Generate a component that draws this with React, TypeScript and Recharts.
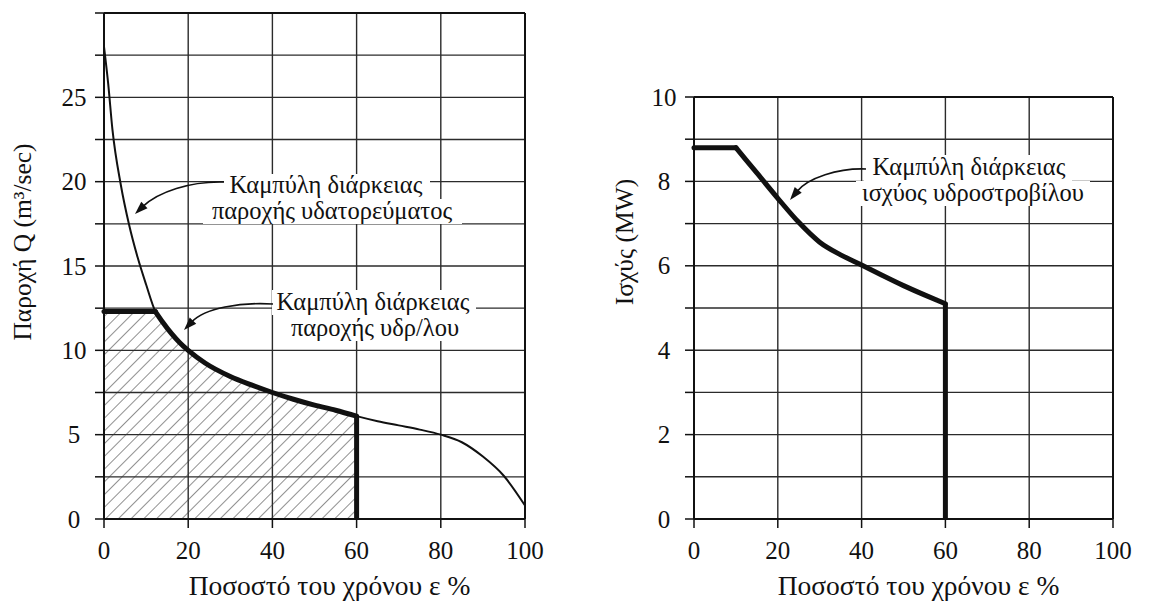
import React from 'react';
import { ComposedChart, Line, Area, XAxis, YAxis, CartesianGrid, ReferenceLine, Label } from 'recharts';

const FONT = 'Liberation Serif';
const INK = '#111111';
const GRID = '#2b2b2b';

// ---- ticks ----
const timeTicks = [0, 20, 40, 60, 80, 100];
const flowTicks = [0, 2.5, 5, 7.5, 10, 12.5, 15, 17.5, 20, 22.5, 25, 27.5, 30];
const flowTickLabels = [0, 5, 10, 15, 20, 25];
const powerTicks = [0, 1, 2, 3, 4, 5, 6, 7, 8, 9, 10];
const powerTickLabels = [0, 2, 4, 6, 8, 10];

// ---- stream flow duration curve (thin) ----
const streamTime = [0, 1, 2, 4, 6, 8, 10, 12.2, 14, 16, 18, 20, 24, 30, 35, 40, 45, 50, 55, 60, 65, 70, 75, 80, 85, 90, 95, 100];
const streamFlow = [28.0, 25.8, 23.1, 19.8, 17.4, 15.5, 13.9, 12.3, 11.65, 11.0, 10.45, 10.0, 9.25, 8.45, 7.95, 7.5, 7.1, 6.75, 6.45, 6.1, 5.8, 5.55, 5.3, 5.0, 4.55, 3.7, 2.55, 0.8];

// ---- hydro plant flow duration curve (thick) ----
const hydroTime = [0, 12.2, 14, 16, 18, 20, 24, 30, 35, 40, 45, 50, 55, 60, 60];
const hydroFlow = [12.3, 12.3, 11.65, 11.0, 10.45, 10.0, 9.25, 8.45, 7.95, 7.5, 7.1, 6.75, 6.45, 6.1, 0];

// ---- turbine power duration curve ----
const turbineTime = [0, 10, 15, 20, 25, 30, 35, 40, 45, 50, 55, 60, 60];
const turbinePower = [8.8, 8.8, 8.2, 7.6, 7.03, 6.56, 6.26, 6.02, 5.77, 5.53, 5.31, 5.1, 0];

// ---- texts ----
const xTitle = 'Ποσοστό του χρόνου ε %';
const flowTitle = 'Παροχή Q (m³/sec)';
const powerTitle = 'Ισχύς (MW)';
const noteStream = ['Καμπύλη διάρκειας', 'παροχής υδατορεύματος'];
const noteHydro = ['Καμπύλη διάρκειας', 'παροχής υδρ/λου'];
const noteTurbine = ['Καμπύλη διάρκειας', 'ισχύος υδροστροβίλου'];

const toPoints = (xs: number[], ys: number[]) => xs.map((x, i) => ({ x, y: ys[i] }));

const streamData = toPoints(streamTime, streamFlow);
const hydroData = toPoints(hydroTime, hydroFlow);
const hydroFlat = hydroData.slice(0, 2);
const hydroCurve = hydroData.slice(1, -1);
const hydroDrop = hydroData.slice(-2);

const turbineData = toPoints(turbineTime, turbinePower);
const turbineFlat = turbineData.slice(0, 2);
const turbineCurve = turbineData.slice(1, -1);
const turbineDrop = turbineData.slice(-2);

const makeYTick = (labels: number[]) => (props: any) => {
  const { x, y, payload } = props;
  const v = payload.value;
  if (!labels.includes(v)) return <g />;
  return (
    <text x={x - 21} y={y} textAnchor="middle" dominantBaseline="central" fontSize={25} fill={INK} fontFamily={FONT}>
      {v}
    </text>
  );
};

const vTitle = (text: string, fromLeft: number, centerY: number) => (props: any) => {
  const vb = props.viewBox || { x: 0 };
  const x = (vb.x || 0) + fromLeft;
  const y = centerY;
  return (
    <text x={x} y={y} transform={`rotate(-90 ${x} ${y})`} textAnchor="middle" dominantBaseline="central" fontSize={25.5} fill={INK} fontFamily={FONT}>
      {text}
    </text>
  );
};

const xTickStyle = { fill: INK, fontSize: 25, fontFamily: FONT };
const axisLineStyle = { stroke: INK, strokeWidth: 2 };
const tickLineStyle = { stroke: INK, strokeWidth: 1.5 };

function FlowChart() {
  return (
    <ComposedChart width={560} height={604} margin={{ top: 13, right: 35, bottom: 0, left: 0 }}>
      <defs>
        <pattern id="hatch" patternUnits="userSpaceOnUse" width="9" height="9" patternTransform="rotate(45)">
          <line x1="0" y1="0" x2="0" y2="9" stroke="#333" strokeWidth="1.1" />
        </pattern>
      </defs>
      <CartesianGrid stroke={GRID} strokeWidth={1.4} />
      <XAxis type="number" dataKey="x" domain={[0, 100]} ticks={timeTicks} interval={0} height={85} tickSize={9} tickMargin={13} tick={xTickStyle} axisLine={axisLineStyle} tickLine={tickLineStyle}>
        <Label value={xTitle} position="insideBottom" offset={9} dx={15} fill={INK} fontSize={27.5} fontFamily={FONT} />
      </XAxis>
      <YAxis type="number" domain={[0, 30]} ticks={flowTicks} interval={0} width={104} tickSize={9} tickMargin={0} tick={makeYTick(flowTickLabels)} axisLine={axisLineStyle} tickLine={tickLineStyle}>
        <Label content={vTitle(flowTitle, 22, 242)} />
      </YAxis>
      <Area data={hydroFlat} dataKey="y" type="linear" stroke="none" fill="url(#hatch)" fillOpacity={1} isAnimationActive={false} />
      <Area data={hydroCurve} dataKey="y" type="monotone" stroke="none" fill="url(#hatch)" fillOpacity={1} isAnimationActive={false} />
      <Line data={streamData} dataKey="y" type="monotone" stroke={INK} strokeWidth={2} dot={false} activeDot={false} isAnimationActive={false} />
      <Line data={hydroFlat} dataKey="y" type="linear" stroke={INK} strokeWidth={5} strokeLinecap="round" dot={false} activeDot={false} isAnimationActive={false} />
      <Line data={hydroCurve} dataKey="y" type="monotone" stroke={INK} strokeWidth={5} strokeLinecap="round" dot={false} activeDot={false} isAnimationActive={false} />
      <Line data={hydroDrop} dataKey="y" type="linear" stroke={INK} strokeWidth={5} dot={false} activeDot={false} isAnimationActive={false} />
      <ReferenceLine y={30} stroke={INK} strokeWidth={2} />
      <ReferenceLine x={100} stroke={INK} strokeWidth={2} />
    </ComposedChart>
  );
}

function PowerChart() {
  return (
    <ComposedChart width={575} height={604} margin={{ top: 97, right: 42, bottom: 0, left: 0 }}>
      <CartesianGrid stroke={GRID} strokeWidth={1.4} />
      <XAxis type="number" dataKey="x" domain={[0, 100]} ticks={timeTicks} interval={0} height={85} tickSize={9} tickMargin={13} tick={xTickStyle} axisLine={axisLineStyle} tickLine={tickLineStyle}>
        <Label value={xTitle} position="insideBottom" offset={9} dx={15} fill={INK} fontSize={27.5} fontFamily={FONT} />
      </XAxis>
      <YAxis type="number" domain={[0, 10]} ticks={powerTicks} interval={0} width={114} tickSize={9} tickMargin={0} tick={makeYTick(powerTickLabels)} axisLine={axisLineStyle} tickLine={tickLineStyle}>
        <Label content={vTitle(powerTitle, 44, 242)} />
      </YAxis>
      <Line data={turbineFlat} dataKey="y" type="linear" stroke={INK} strokeWidth={5} strokeLinecap="round" dot={false} activeDot={false} isAnimationActive={false} />
      <Line data={turbineCurve} dataKey="y" type="monotone" stroke={INK} strokeWidth={5} strokeLinecap="round" dot={false} activeDot={false} isAnimationActive={false} />
      <Line data={turbineDrop} dataKey="y" type="linear" stroke={INK} strokeWidth={5} dot={false} activeDot={false} isAnimationActive={false} />
      <ReferenceLine y={10} stroke={INK} strokeWidth={2} />
      <ReferenceLine x={100} stroke={INK} strokeWidth={2} />
    </ComposedChart>
  );
}

type Note = { lines: string[]; centers: number[]; baselines: number[]; boxes: number[][]; path: number[] };

const notes: Note[] = [
  { lines: noteStream, centers: [326, 332], baselines: [193, 218.5], boxes: [[224, 174, 206, 25], [203, 199, 259, 25]], path: [224, 182, 190, 181, 158, 192, 135, 214] },
  { lines: noteHydro, centers: [373, 375], baselines: [310, 335.5], boxes: [[272, 290, 204, 25], [286, 315, 178, 26]], path: [273, 304, 240, 302, 205, 308, 184, 330] },
  { lines: noteTurbine, centers: [969, 973], baselines: [175, 200.5], boxes: [[864, 155, 208, 26], [856, 181, 234, 25]], path: [866, 169, 838, 168, 808, 178, 790, 200] },
];

function Annotation({ n }: { n: Note }) {
  const [x0, y0, c1x, c1y, c2x, c2y, tx, ty] = n.path;
  const dx = tx - c2x;
  const dy = ty - c2y;
  const len = Math.hypot(dx, dy) || 1;
  const ux = dx / len;
  const uy = dy / len;
  const L = 13;
  const W = 4.5;
  const bx = tx - ux * L;
  const by = ty - uy * L;
  const head = `${tx},${ty} ${bx - uy * W},${by + ux * W} ${bx + uy * W},${by - ux * W}`;
  const ex = tx - ux * (L - 2);
  const ey = ty - uy * (L - 2);
  return (
    <g>
      {n.boxes.map((b, i) => (
        <rect key={i} x={b[0]} y={b[1]} width={b[2]} height={b[3]} fill="#ffffff" />
      ))}
      <path d={`M ${x0} ${y0} C ${c1x} ${c1y}, ${c2x} ${c2y}, ${ex} ${ey}`} fill="none" stroke={INK} strokeWidth={1.6} />
      <polygon points={head} fill={INK} />
      {n.lines.map((t, i) => (
        <text key={i} x={n.centers[i]} y={n.baselines[i]} textAnchor="middle" fontSize={24.5} fill={INK} fontFamily={FONT}>
          {t}
        </text>
      ))}
    </g>
  );
}

export default function App() {
  return (
    <div style={{ position: 'absolute', left: 0, top: 0, width: 1155, height: 604, background: '#ffffff', overflow: 'hidden' }}>
      <div style={{ position: 'absolute', left: 0, top: 0 }}>
        <FlowChart />
      </div>
      <div style={{ position: 'absolute', left: 580, top: 0 }}>
        <PowerChart />
      </div>
      <svg width={1155} height={604} style={{ position: 'absolute', left: 0, top: 0, pointerEvents: 'none' }}>
        {notes.map((n, i) => (
          <Annotation key={i} n={n} />
        ))}
      </svg>
    </div>
  );
}
